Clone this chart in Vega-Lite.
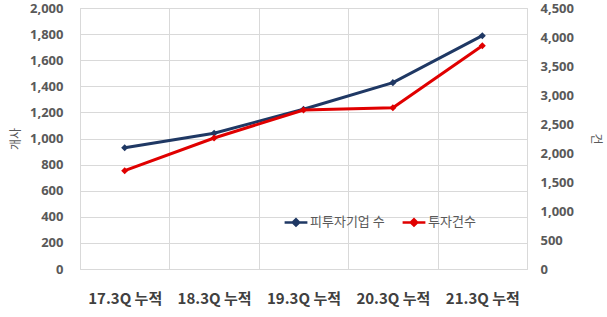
{
  "$schema": "https://vega.github.io/schema/vega-lite/v6.json",
  "width": 447,
  "height": 261,
  "autosize": {"type": "none"},
  "padding": {"left": 80, "top": 8, "right": 80, "bottom": 48},
  "background": "white",
  "config": {
    "font": "Noto Sans CJK KR",
    "view": {"stroke": "#d9d9d9", "strokeWidth": 1},
    "axis": {"gridColor": "#d9d9d9", "gridWidth": 1, "domain": false, "ticks": false}
  },
  "data": {
    "values": [
      {"q": "17.3Q 누적", "series": "피투자기업 수", "v": 929},
      {"q": "18.3Q 누적", "series": "피투자기업 수", "v": 1040},
      {"q": "19.3Q 누적", "series": "피투자기업 수", "v": 1224},
      {"q": "20.3Q 누적", "series": "피투자기업 수", "v": 1428},
      {"q": "21.3Q 누적", "series": "피투자기업 수", "v": 1788},
      {"q": "17.3Q 누적", "series": "투자건수", "v": 1695},
      {"q": "18.3Q 누적", "series": "투자건수", "v": 2259},
      {"q": "19.3Q 누적", "series": "투자건수", "v": 2741},
      {"q": "20.3Q 누적", "series": "투자건수", "v": 2781},
      {"q": "21.3Q 누적", "series": "투자건수", "v": 3850}
    ]
  },
  "encoding": {
    "x": {
      "field": "q", "type": "nominal", "sort": null, "title": null,
      "scale": {"paddingInner": 0, "paddingOuter": 0},
      "axis": {"labelAngle": 0, "labelFontSize": 15, "labelFontWeight": "bold", "labelColor": "#404040", "labelPadding": 22, "labelOverlap": false, "tickBand": "extent", "grid": true}
    },
    "color": {
      "field": "series", "type": "nominal",
      "scale": {"domain": ["피투자기업 수", "투자건수"], "range": ["#1f3864", "#e00000"]},
      "legend": {
        "title": null, "orient": "none", "legendX": 203, "legendY": 201, "direction": "horizontal",
        "labelFontSize": 13, "labelColor": "#595959", "columnPadding": 12,
        "symbolType": "M-1,0L1,0M-0.28,0L0,-0.28L0.28,0L0,0.28Z", "symbolSize": 520, "symbolStrokeWidth": 2.5, "labelOffset": 1
      }
    }
  },
  "layer": [
    {
      "transform": [{"filter": "datum.series === '피투자기업 수'"}],
      "mark": {"type": "line", "strokeWidth": 3, "point": {"shape": "diamond", "filled": true, "size": 50}},
      "encoding": {
        "y": {
          "field": "v", "type": "quantitative", "title": "개사",
          "scale": {"domain": [0, 2000]},
          "axis": {"values": [0, 200, 400, 600, 800, 1000, 1200, 1400, 1600, 1800, 2000], "labelFont": "Noto Sans", "labelFontSize": 13, "labelFontWeight": "bold", "labelColor": "#595959", "labelPadding": 17, "titleFontSize": 12, "titleFontWeight": "normal", "titleColor": "#595959", "titlePadding": 7, "grid": true}
        }
      }
    },
    {
      "transform": [{"filter": "datum.series === '투자건수'"}],
      "mark": {"type": "line", "strokeWidth": 3, "point": {"shape": "diamond", "filled": true, "size": 50}},
      "encoding": {
        "y": {
          "field": "v", "type": "quantitative", "title": "건",
          "scale": {"domain": [0, 4500]},
          "axis": {"orient": "right", "values": [0, 500, 1000, 1500, 2000, 2500, 3000, 3500, 4000, 4500], "labelFont": "Noto Sans", "labelFontSize": 13, "labelFontWeight": "bold", "labelColor": "#595959", "labelPadding": 13, "titleFontSize": 12, "titleFontWeight": "normal", "titleColor": "#595959", "titlePadding": 15, "grid": false}
        }
      }
    }
  ],
  "resolve": {"scale": {"y": "independent"}}
}
